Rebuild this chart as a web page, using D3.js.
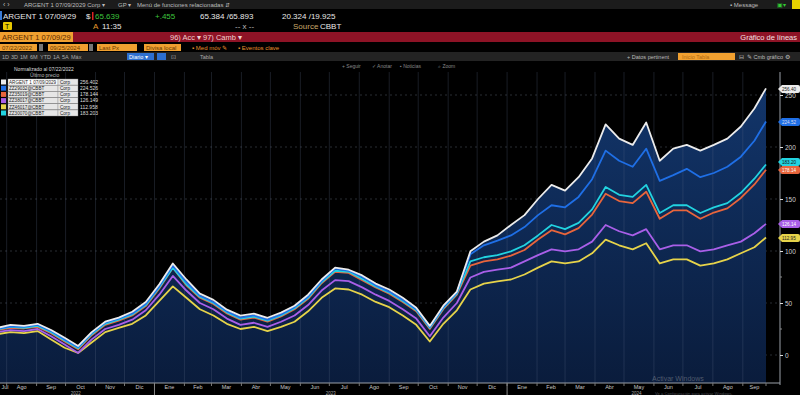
<!DOCTYPE html>
<html><head><meta charset="utf-8">
<script src="https://cdn.jsdelivr.net/npm/d3@7"></script>
<style>
html,body{margin:0;padding:0;background:#000;}
svg{display:block;font-family:"Liberation Sans",Arial,sans-serif;}
</style></head>
<body><svg id="c" width="800" height="395"></svg>
<script>
// ---------- DATA ----------
const startDate = "2022-07-22";
const endDate = "2024-09-25";
const seriesNames = ["ARGENT 1 07/09/2029 Corp","ZZ29032@CBBT Corp","ZZ35019@CBBT Corp","ZZ38017@CBBT Corp","ZZ46017@CBBT Corp","ZZ30070@CBBT Corp"];
const lastValues = ["256.402","224.526","178.144","126.149","112.958","183.203"];
const seriesColors = ["#ececec","#1f6fe6","#e8653c","#a95fe8","#e6d34a","#22d3e0"];
const white = [26,29,28,30,24,16.5,8.7,22,32,36,41.6,51,68,88,72.6,59,53,43.6,37.8,39.7,35.8,40.7,47.4,58,72.6,84,82,76.5,68.7,63,55,45.5,28,47.4,61,
  99.7,109,115,125,134.5,150,163.6,158,171,189,221.7,208,202,223.6,186.8,198.4,202,196.5,202,208,219.7,237,256.4];
const blue = [25,27.5,27,29,23,15,7.5,21,31,35,40,49,66,86,70,57,51,42,36,38,34,39,46,56,71,83,81,75,67,61,53,44,27,46,60,
  96.8,105.5,110,115,123,134.5,144,142,152,169,196.5,186.8,181,198.4,167.5,173,179,171,175,181,190.7,206,224.5];
const orange = [24,26,25.5,27,21,13,5.5,19,29,33,38,47,64,84,67,55,49,40,34,36,32,37,44,54,69,80,79,72,65,59,51,42,25,44,58,
  86,90,92,95.5,101,111,120,116,122,135,155,148,146,157,131,139,139,131,137,141,151,164,178.1];
const purple = [22,24,23,25,18,10,2,15,25,29,34,43,58,76,62,50,44,35,29,31,27,32,38,48,62,72,71,65,58,52,44,35,18,36,50,
  74.5,80,82,84,90,96,101.6,99.7,101.6,109,125,119,115,121,101.6,105.5,105.5,99.7,101.6,105.5,109,117,126.1];
const yellow = [20,22,21,23,15,7,2,12,22,26,30,38,52,66,55,44,38,30,25,27,23,27,32,42,55,64,63,58,51,46,38,29,13,30,43,
  63,68.7,70.7,72.6,77.4,84,90,88,90,97.8,111,105.5,101.6,107.5,88,92,92,86,88,92,97.8,103.6,113];
const cyan = [24.5,27,26,28,22,14,6.5,20,30,34,39,48,65,84,68,56,50,41,35,37,33,38,45,55,70,81,80,73,66,60,52,43,26,45,59,
  90,94,96,99.7,105.5,115,125,121,127,140,161.6,154,152,163.6,136.5,144,144,136.5,142,146,156,169.5,183.2];
const yTicks = [0,50,100,150,200,250];
const monthNames = ["Ene","Feb","Mar","Abr","May","Jun","Jul","Ago","Sep","Oct","Nov","Dic"];

// ---------- BUILD ----------
const parse = d3.timeParse("%Y-%m-%d");
const t0 = parse(startDate), t1 = parse(endDate);
const dates = d3.range(white.length).map(k => k === white.length-1 ? t1 : d3.timeDay.offset(t0, 14*k));
const allSeries = [white, blue, orange, purple, yellow, cyan];
const drawOrder = [4,3,2,5,1,0];

const svg = d3.select("#c");
const x = d3.scaleTime().domain([t0,t1]).range([-3,766]);
const y = d3.scaleLinear().domain([0,250]).range([355,95]);
const plotTop = 72, plotBottom = 383, axisX = 780;

svg.append("rect").attr("width",800).attr("height",395).attr("fill","#000");

const defs = svg.append("defs");
const g1 = defs.append("linearGradient").attr("id","fillg").attr("x1",0).attr("y1",0).attr("x2",0).attr("y2",1);
g1.append("stop").attr("offset","0%").attr("stop-color","#12356a");
g1.append("stop").attr("offset","100%").attr("stop-color","#0a1c3c");
defs.append("clipPath").attr("id","clipP").append("rect").attr("x",0).attr("y",plotTop).attr("width",770).attr("height",plotBottom-plotTop);

svg.append("g").selectAll("line").data(yTicks).join("line")
  .attr("x1",0).attr("x2",axisX).attr("y1",d=>y(d)).attr("y2",d=>y(d))
  .attr("stroke","#3a3f48").attr("stroke-width",0.7).attr("stroke-dasharray","2,3");

const area = d3.area().x((d,i)=>x(dates[i])).y0(plotBottom).y1(d=>y(d));
svg.append("path").datum(white).attr("d",area).attr("fill","url(#fillg)").attr("clip-path","url(#clipP)");

const months = d3.timeMonth.range(d3.timeMonth.ceil(t0), t1);
svg.append("g").selectAll("line").data(months).join("line")
  .attr("x1",d=>x(d)).attr("x2",d=>x(d)).attr("y1",plotTop).attr("y2",plotBottom)
  .attr("stroke","#5a6a85").attr("stroke-opacity",0.35).attr("stroke-width",0.8);

const line = d3.line().x((d,i)=>x(dates[i])).y(d=>y(d)).curve(d3.curveLinear);
drawOrder.forEach(si=>{
  svg.append("path").datum(allSeries[si]).attr("d",line).attr("fill","none")
    .attr("stroke",seriesColors[si]).attr("stroke-width",1.8).attr("stroke-linejoin","round").attr("clip-path","url(#clipP)");
});

svg.append("line").attr("x1",0).attr("x2",axisX).attr("y1",plotBottom).attr("y2",plotBottom).attr("stroke","#9aa0a8").attr("stroke-width",1);
svg.append("line").attr("x1",axisX).attr("x2",axisX).attr("y1",plotTop).attr("y2",plotBottom+2).attr("stroke","#9aa0a8").attr("stroke-width",1);
const yAxis = d3.axisRight(y).tickValues(yTicks).tickSize(3).tickFormat(d3.format("d"));
const ya = svg.append("g").attr("transform",`translate(${axisX},0)`).call(yAxis);
ya.select(".domain").remove();
ya.selectAll("line").attr("stroke","#ddd");
ya.selectAll("text").attr("fill","#cfcfcf").attr("font-size",6.5).attr("x",5);
svg.append("g").selectAll("line").data([25,75,125,175,225]).join("line")
  .attr("x1",axisX).attr("x2",axisX+2).attr("y1",d=>y(d)).attr("y2",d=>y(d)).attr("stroke","#888");

const monthSpans = [t0, ...months, t1];
const ml = svg.append("g");
for(let i=0;i<monthSpans.length-1;i++){
  const a = monthSpans[i], b = monthSpans[i+1];
  const cx = (x(a)+x(b))/2;
  ml.append("text").attr("x",Math.max(cx,5)).attr("y",389).attr("text-anchor","middle")
    .attr("fill","#c8c8c8").attr("font-size",5.5).text(monthNames[a.getMonth()]);
  ml.append("line").attr("x1",x(b)).attr("x2",x(b)).attr("y1",plotBottom).attr("y2",plotBottom+3).attr("stroke","#777");
}
[2022,2023,2024].forEach(yr=>{
  const a = d3.max([t0,new Date(yr,0,1)]), b = d3.min([t1,new Date(yr+1,0,1)]);
  svg.append("text").attr("x",(x(a)+x(b))/2).attr("y",394.5).attr("text-anchor","middle")
    .attr("fill","#aaa").attr("font-size",4.5).text(yr);
});
[2023,2024].forEach(yr=>{
  svg.append("line").attr("x1",x(new Date(yr,0,1))).attr("x2",x(new Date(yr,0,1))).attr("y1",plotBottom).attr("y2",395).attr("stroke","#888");
});

// right value tags
const tagOrder = [0,1,5,2,3,4];
const tagY = [89,122,162,170,224,238];
const tagText = ["#222","#dde","#111","#fff","#fff","#222"];
tagOrder.forEach((si,j)=>{
  const ty = tagY[j];
  svg.append("path").attr("d",`M${axisX-2},${ty} l4,-4 h16 a2,2 0 0 1 2,2 v4 a2,2 0 0 1 -2,2 h-16 z`).attr("fill",seriesColors[si]);
  svg.append("text").attr("x",axisX+2).attr("y",ty+1.8).attr("fill",tagText[j]).attr("font-size",4.6).text(lastValues[si].slice(0,6));
});

// ---------- HEADER ----------
const hdr = svg.append("g").attr("font-size",7);
hdr.append("rect").attr("x",0).attr("y",0).attr("width",800).attr("height",9).attr("fill","#1c1c1c");
hdr.append("text").attr("x",3).attr("y",7).attr("fill","#bbb").text("‹  ›");
hdr.append("text").attr("x",24).attr("y",7).attr("fill","#bbb").attr("font-size",6).text("ARGENT 1 07/09/2029 Corp ▾");
hdr.append("text").attr("x",118).attr("y",7).attr("fill","#bbb").attr("font-size",6).text("GP ▾");
hdr.append("text").attr("x",137).attr("y",7).attr("fill","#bbb").attr("font-size",6).text("Menú de funciones relacionadas ⇵");
hdr.append("text").attr("x",730).attr("y",7).attr("fill","#bbb").attr("font-size",6).text("▪ Message");
hdr.append("text").attr("x",777).attr("y",7).attr("fill","#3c3").attr("font-size",6).text("▣▾");
hdr.append("rect").attr("x",792).attr("y",0).attr("width",8).attr("height",9).attr("fill","#e6d200");

hdr.append("rect").attr("x",0).attr("y",11).attr("width",2).attr("height",9).attr("fill","#3a7bd5");
hdr.append("text").attr("x",3).attr("y",19).attr("fill","#e8e8e8").attr("font-size",8).text("ARGENT 1 07/09/29");
hdr.append("text").attr("x",86).attr("y",19).attr("fill","#e8e8e8").attr("font-size",8).text("$");
hdr.append("rect").attr("x",92).attr("y",12).attr("width",1.5).attr("height",8).attr("fill","#d22");
hdr.append("text").attr("x",95).attr("y",19).attr("fill","#3ec43e").attr("font-size",8).text("65.639");
hdr.append("text").attr("x",155).attr("y",19).attr("fill","#3ec43e").attr("font-size",8).text("+.455");
hdr.append("text").attr("x",200).attr("y",19).attr("fill","#e8e8e8").attr("font-size",8).text("65.384 /65.893");
hdr.append("text").attr("x",282).attr("y",19).attr("fill","#e8e8e8").attr("font-size",8).text("20.324 /19.925");
hdr.append("rect").attr("x",3).attr("y",22).attr("width",9).attr("height",8).attr("fill","#e6c700").attr("rx",1);
hdr.append("text").attr("x",5).attr("y",29).attr("fill","#000").attr("font-size",7).text("T");
hdr.append("text").attr("x",93).attr("y",29).attr("fill","#e89a2c").attr("font-size",8).text("A");
hdr.append("text").attr("x",102).attr("y",29).attr("fill","#e8e8e8").attr("font-size",8).text("11:35");
hdr.append("text").attr("x",235).attr("y",29).attr("fill","#bbb").attr("font-size",8).text("-- x --");
hdr.append("text").attr("x",293).attr("y",29).attr("fill","#c9a86a").attr("font-size",8).text("Source");
hdr.append("text").attr("x",320).attr("y",29).attr("fill","#e8e8e8").attr("font-size",8).text("CBBT");

hdr.append("rect").attr("x",0).attr("y",32).attr("width",800).attr("height",10).attr("fill","#8e1326");
hdr.append("rect").attr("x",0).attr("y",32).attr("width",73).attr("height",10).attr("fill","#f0a030");
hdr.append("text").attr("x",2).attr("y",40).attr("fill","#5a2a00").attr("font-size",7.5).text("ARGENT 1 07/09/29");
hdr.append("text").attr("x",170).attr("y",40).attr("fill","#f0d0d0").attr("font-size",7.5).text("96) Acc ▾");
hdr.append("text").attr("x",203).attr("y",40).attr("fill","#f0d0d0").attr("font-size",7.5).text("97) Camb ▾");
hdr.append("text").attr("x",797).attr("y",40).attr("fill","#f3e0e0").attr("font-size",7.5).attr("text-anchor","end").text("Gráfico de líneas");

const boxes = [[0,37,"07/22/2022"],[48,40,"09/25/2024"],[97,40,"Last Px"],[144,37,"Divisa local"]];
boxes.forEach(b=>{
  hdr.append("rect").attr("x",b[0]).attr("y",44).attr("width",b[1]).attr("height",7).attr("fill","#f0a030");
  hdr.append("text").attr("x",b[0]+2).attr("y",50).attr("fill","#6a3a00").attr("font-size",6).text(b[2]);
});
hdr.append("rect").attr("x",39).attr("y",44).attr("width",4).attr("height",7).attr("fill","#777");
hdr.append("rect").attr("x",89).attr("y",44).attr("width",4).attr("height",7).attr("fill","#777");
hdr.append("text").attr("x",192).attr("y",50).attr("fill","#e8902c").attr("font-size",6).text("▪ Med móv ✎");
hdr.append("text").attr("x",238).attr("y",50).attr("fill","#e8902c").attr("font-size",6).text("▪ Eventos clave");

hdr.append("rect").attr("x",0).attr("y",52).attr("width",800).attr("height",9).attr("fill","#232323");
const per = [["1D",2],["3D",11],["1M",20],["6M",30],["YTD",40],["1A",53],["5A",62],["Máx",71]];
per.forEach(p=>hdr.append("text").attr("x",p[1]).attr("y",59).attr("fill","#aaa").attr("font-size",5.5).text(p[0]));
hdr.append("rect").attr("x",127).attr("y",53).attr("width",27).attr("height",7).attr("fill","#2d6fd0");
hdr.append("text").attr("x",129).attr("y",59).attr("fill","#fff").attr("font-size",5.5).text("Diario ▾");
hdr.append("rect").attr("x",157).attr("y",53).attr("width",9).attr("height",7).attr("fill","#2d6fd0");
hdr.append("text").attr("x",171).attr("y",59).attr("fill","#aaa").attr("font-size",5.5).text("⊡");
hdr.append("text").attr("x",200).attr("y",59).attr("fill","#aaa").attr("font-size",5.5).text("Tabla");
hdr.append("text").attr("x",627).attr("y",59).attr("fill","#bbb").attr("font-size",5.5).text("+ Datos pertinent");
hdr.append("rect").attr("x",678).attr("y",53).attr("width",57).attr("height",7).attr("fill","#f0a030");
hdr.append("text").attr("x",682).attr("y",59).attr("fill","#b06a10").attr("font-size",5.5).text("Inicio Tabla");
hdr.append("text").attr("x",739).attr("y",59).attr("fill","#bbb").attr("font-size",5.5).text("⊟");
hdr.append("text").attr("x",747).attr("y",59).attr("fill","#bbb").attr("font-size",5.5).text("✎ Cmb gráfico  ⚙");

const tb = [["+ Seguir",342],["✓ Anotar",372],["▪ Noticias",400],["⌕ Zoom",438]];
tb.forEach(t=>hdr.append("text").attr("x",t[1]).attr("y",68).attr("fill","#888").attr("font-size",5).text(t[0]));

const lg = svg.append("g");
lg.append("text").attr("x",14).attr("y",71).attr("fill","#ddd").attr("font-size",5).text("Normalizado al 07/22/2022");
lg.append("text").attr("x",30).attr("y",77).attr("fill","#bbb").attr("font-size",5).text("Último precio");
[0,1,2,3,4,5].forEach((si,j)=>{
  const ly = 79 + j*6.2;
  lg.append("rect").attr("x",1).attr("y",ly+0.5).attr("width",5).attr("height",5).attr("fill",seriesColors[si]);
  lg.append("rect").attr("x",8).attr("y",ly).attr("width",50).attr("height",6).attr("fill",j===0?"#fff":"#e6e6e6").attr("stroke","#888").attr("stroke-width",0.4);
  lg.append("rect").attr("x",58).attr("y",ly).attr("width",20).attr("height",6).attr("fill","#e6e6e6").attr("stroke","#888").attr("stroke-width",0.4);
  lg.append("text").attr("x",9).attr("y",ly+4.8).attr("fill","#222").attr("font-size",4.6).text(seriesNames[si].replace(/ Corp$/,""));
  lg.append("text").attr("x",60).attr("y",ly+4.8).attr("fill","#222").attr("font-size",4.6).text("Corp");
  lg.append("text").attr("x",80).attr("y",ly+4.8).attr("fill","#ddd").attr("font-size",5).text(lastValues[si]);
});

svg.append("text").attr("x",652).attr("y",381).attr("fill","#8a8f99").attr("fill-opacity",0.55).attr("font-size",7).text("Activar Windows");
svg.append("text").attr("x",655).attr("y",394.5).attr("fill","#8a8f99").attr("fill-opacity",0.55).attr("font-size",4.2).text("Ve a Configuración para activar Windows.");
</script></body></html>
